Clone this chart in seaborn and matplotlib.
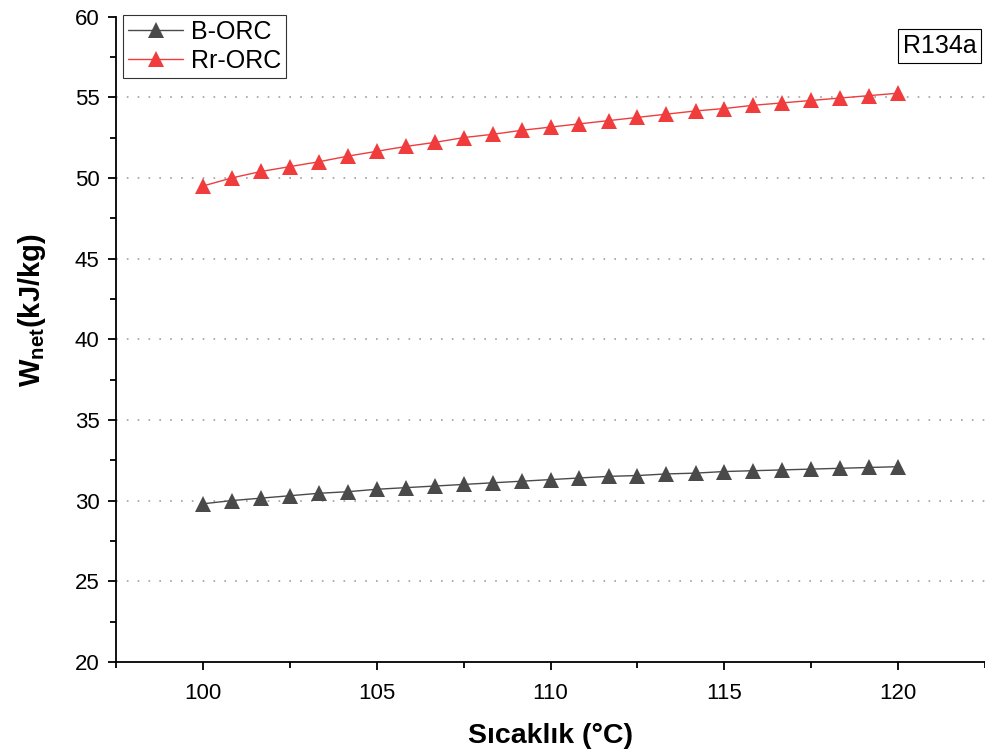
import numpy as np
import pandas as pd
import matplotlib
matplotlib.use("Agg")
import matplotlib.pyplot as plt
from matplotlib.ticker import MultipleLocator
import seaborn as sns

# temperatures (C) and net work (kJ/kg)
temps = [100.0, 100.83, 101.67, 102.5, 103.33, 104.17, 105.0, 105.83, 106.67,
         107.5, 108.33, 109.17, 110.0, 110.83, 111.67, 112.5, 113.33, 114.17,
         115.0, 115.83, 116.67, 117.5, 118.33, 119.17, 120.0]
b_orc = [29.8, 30.0, 30.15, 30.3, 30.45, 30.55, 30.7, 30.8, 30.9, 31.0, 31.1,
         31.2, 31.3, 31.4, 31.5, 31.55, 31.65, 31.7, 31.8, 31.85, 31.9, 31.95,
         32.0, 32.05, 32.1]
rr_orc = [49.5, 50.0, 50.4, 50.7, 51.0, 51.35, 51.65, 51.95, 52.2, 52.5, 52.7,
          52.95, 53.15, 53.35, 53.55, 53.75, 53.95, 54.15, 54.3, 54.5, 54.65,
          54.8, 54.95, 55.1, 55.25]
series = ["B-ORC", "Rr-ORC"]

df = pd.concat([
    pd.DataFrame({"T": temps, "W": b_orc, "s": series[0]}),
    pd.DataFrame({"T": temps, "W": rr_orc, "s": series[1]}),
])

sns.set_style("ticks")
plt.rcParams["font.family"] = ["Liberation Sans", "DejaVu Sans"]
plt.rcParams["mathtext.fontset"] = "custom"
plt.rcParams["mathtext.bf"] = "Liberation Sans:bold"
plt.rcParams["mathtext.rm"] = "Liberation Sans"
for k in ["text.color", "axes.labelcolor", "xtick.color", "ytick.color", "axes.edgecolor"]:
    plt.rcParams[k] = "black"

fig = plt.figure(figsize=(9.85, 7.53), dpi=100)
ax = fig.add_axes([0.118, 0.121, 0.882, 0.857])

colors = {"B-ORC": "#4a4a4a", "Rr-ORC": "#f03c3c"}
sns.lineplot(data=df, x="T", y="W", hue="s", style="s", palette=colors,
             markers=["^", "^"], dashes=False, markersize=11, linewidth=1.0,
             markeredgewidth=0, ax=ax)

ax.set_xlim(97.5, 122.5)
ax.set_ylim(20, 60)
ax.xaxis.set_major_locator(MultipleLocator(5))
ax.xaxis.set_minor_locator(MultipleLocator(2.5))
ax.yaxis.set_major_locator(MultipleLocator(5))
ax.yaxis.set_minor_locator(MultipleLocator(2.5))
ax.tick_params(which="major", direction="out", length=6, width=1.3, labelsize=16)
ax.tick_params(axis="x", which="major", pad=9)
ax.tick_params(axis="y", which="major", pad=6)
ax.tick_params(which="minor", direction="out", length=4, width=1.3)
for sp in ["top", "right"]:
    ax.spines[sp].set_visible(False)
for sp in ["left", "bottom"]:
    ax.spines[sp].set_linewidth(1.3)

for yv in range(25, 60, 5):
    ax.axhline(yv, color="#a0a0a0", linestyle=(0, (1, 5.5)), linewidth=1.2, zorder=0)

ax.set_xlabel("Sıcaklık (°C)", fontsize=20.5, fontweight="bold", labelpad=14)
ax.set_ylabel(r"W$_{\mathbf{net}}$(kJ/kg)", fontsize=21, fontweight="bold")
ax.yaxis.set_label_coords(-0.078, 0.545)

leg = ax.legend(loc="upper left", bbox_to_anchor=(0.008, 1.003), fontsize=18,
                frameon=True, fancybox=False, edgecolor="black",
                handlelength=2.2, borderpad=0.2, labelspacing=0.22,
                handletextpad=0.3, borderaxespad=0)
leg.get_frame().set_linewidth(0.8)

ax.text(0.99, 0.955, "R134a", transform=ax.transAxes, fontsize=18,
        ha="right", va="center",
        bbox=dict(boxstyle="square,pad=0.2", facecolor="white",
                  edgecolor="black", linewidth=0.8))

fig.savefig("out.png", dpi=100)
